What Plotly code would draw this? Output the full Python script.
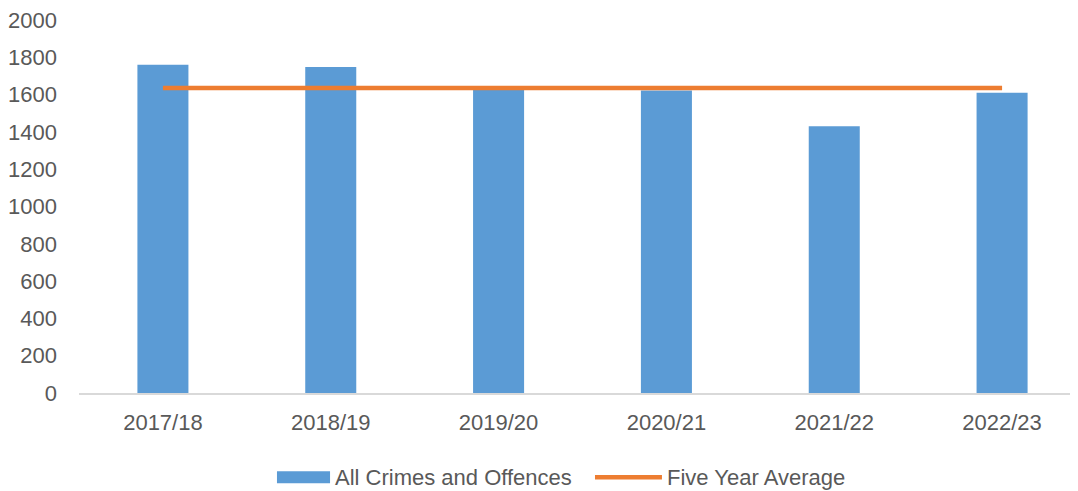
import plotly.graph_objects as go

# Values
years = ['2017/18', '2018/19', '2019/20', '2020/21', '2021/22', '2022/23']
all_crimes = [1760, 1748, 1626, 1622, 1430, 1610]
five_year_avg = [1636, 1636, 1636, 1636, 1636, 1636]
y_ticks = [0, 200, 400, 600, 800, 1000, 1200, 1400, 1600, 1800, 2000]
series_names = ['All Crimes and Offences', 'Five Year Average']
colors = ['#5B9BD5', '#ED7D31']
text_color = '#595959'

fig = go.Figure()

fig.add_trace(go.Bar(x=years, y=all_crimes, name=series_names[0],
                     marker_color=colors[0], marker_line_width=0))

fig.add_trace(go.Scatter(x=years, y=five_year_avg, name=series_names[1],
                         mode='lines', line=dict(color=colors[1], width=4.5)))

# Excel style legend below the plot (wide swatches)
leg_y = -0.226
fig.add_shape(type='rect', xref='paper', yref='paper',
              x0=0.1966, x1=0.2493, y0=leg_y - 0.016, y1=leg_y + 0.016,
              fillcolor=colors[0], line_width=0)
fig.add_shape(type='line', xref='paper', yref='paper',
              x0=0.5124, x1=0.5789, y0=leg_y, y1=leg_y,
              line=dict(color=colors[1], width=4.5))
fig.add_annotation(text=series_names[0], xref='paper', yref='paper',
                   x=0.2522, y=leg_y, xanchor='left', yanchor='middle',
                   showarrow=False)
fig.add_annotation(text=series_names[1], xref='paper', yref='paper',
                   x=0.5819, y=leg_y, xanchor='left', yanchor='middle',
                   showarrow=False)

fig.update_layout(width=1078, height=491,
                  plot_bgcolor='white', paper_bgcolor='white',
                  font=dict(family='Liberation Sans', size=22, color=text_color),
                  margin=dict(l=71, r=0, t=9, b=106),
                  bargap=0.696,
                  showlegend=False)

fig.update_xaxes(range=[-0.5, 5.5], showline=True, linecolor='#D9D9D9',
                 linewidth=1.5, showgrid=False, ticks='', ticklabelstandoff=9)
fig.update_yaxes(range=[0, 2000], tickvals=y_ticks, showgrid=False,
                 zeroline=False, showline=False, ticks='', ticklabelstandoff=21,
                 ticklabeloverflow='allow')

fig.write_html('out.html')
